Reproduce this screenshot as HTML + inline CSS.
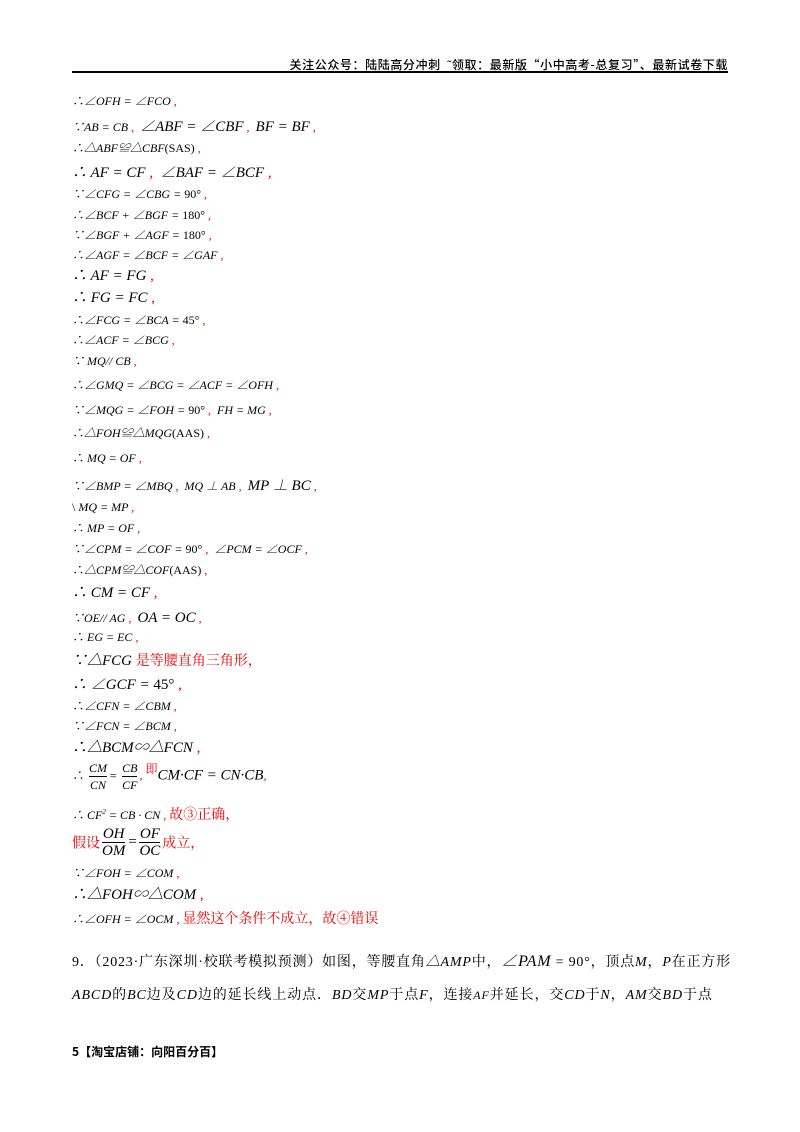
<!DOCTYPE html>
<html><head><meta charset="utf-8"><style>
body{margin:0;background:#fff;}
#p{position:relative;width:800px;height:1132px;overflow:hidden;font-family:"Liberation Serif","Noto Serif CJK SC",serif;color:#000;}
.l{position:absolute;left:72px;white-space:nowrap;font-style:italic;font-size:12px;line-height:14px;}
.b{font-size:15px;line-height:18px;}
.r{color:#e00;font-style:normal;}
.n{font-style:normal;}
.cj{font-family:"Noto Serif CJK SC",serif;font-style:normal;}
.fr{display:inline-block;vertical-align:middle;text-align:center;margin:0 2px;}
.fr span{display:block;line-height:16px;}
.fr span:first-child{border-bottom:1px solid #000;}
</style></head><body><div id="p">
<div style="position:absolute;right:72px;top:56px;font-family:'Noto Sans CJK SC',sans-serif;font-size:12px;font-weight:500;letter-spacing:0.6px;">关注公众号：陆陆高分冲刺 &nbsp;˜领取：最新版“小中高考-总复习”、最新试卷下载</div>
<div style="position:absolute;left:72px;top:71px;width:656px;height:2px;background:#000;"></div>

<div class="l" style="top:94px">∴∠OFH = ∠FCO <span class="r">,</span></div>
<div class="l" style="top:118px">∵AB = CB <span class="r">,</span> &nbsp;<span class="b">∠ABF = ∠CBF</span> <span class="r">,</span> &nbsp;<span class="b">BF = BF</span> <span class="r">,</span></div>
<div class="l" style="top:141px">∴△ABF≌△CBF<span class="n">(SAS)</span> <span class="r">,</span></div>
<div class="l b" style="top:164px">∴ AF = CF <span class="r">,</span> &nbsp;∠BAF = ∠BCF <span class="r">,</span></div>
<div class="l" style="top:187px">∵∠CFG = ∠CBG = <span class="n">90°</span> <span class="r">,</span></div>
<div class="l" style="top:208px">∴∠BCF + ∠BGF = <span class="n">180°</span> <span class="r">,</span></div>
<div class="l" style="top:228px">∵∠BGF + ∠AGF = <span class="n">180°</span> <span class="r">,</span></div>
<div class="l" style="top:248px">∴∠AGF = ∠BCF = ∠GAF <span class="r">,</span></div>
<div class="l b" style="top:267px">∴ AF = FG <span class="r">,</span></div>
<div class="l b" style="top:289px">∴ FG = FC <span class="r">,</span></div>
<div class="l" style="top:313px">∴∠FCG = ∠BCA = <span class="n">45°</span> <span class="r">,</span></div>
<div class="l" style="top:333px">∴∠ACF = ∠BCG <span class="r">,</span></div>
<div class="l" style="top:354px">∵ MQ// CB <span class="r">,</span></div>
<div class="l" style="top:378px">∴∠GMQ = ∠BCG = ∠ACF = ∠OFH <span class="r">,</span></div>
<div class="l" style="top:403px">∵∠MQG = ∠FOH = <span class="n">90°</span> <span class="r">,</span> &nbsp;FH = MG <span class="r">,</span></div>
<div class="l" style="top:426px">∴△FOH≌△MQG<span class="n">(AAS)</span> <span class="r">,</span></div>
<div class="l" style="top:451px">∴ MQ = OF <span class="r">,</span></div>
<div class="l" style="top:477px">∵∠BMP = ∠MBQ <span class="r">,</span> &nbsp;MQ ⊥ AB <span class="r">,</span> &nbsp;<span class="b">MP ⊥ BC</span> <span class="r">,</span></div>
<div class="l" style="top:500px"><span class="n">\</span> MQ = MP <span class="r">,</span></div>
<div class="l" style="top:521px">∴ MP = OF <span class="r">,</span></div>
<div class="l" style="top:542px">∵∠CPM = ∠COF = <span class="n">90°</span> <span class="r">,</span> &nbsp;∠PCM = ∠OCF <span class="r">,</span></div>
<div class="l" style="top:563px">∴△CPM≌△COF<span class="n">(AAS)</span> <span class="r">,</span></div>
<div class="l b" style="top:584px">∴ CM = CF <span class="r">,</span></div>
<div class="l" style="top:609px">∵OE// AG <span class="r">,</span> &nbsp;<span class="b">OA = OC</span> <span class="r">,</span></div>
<div class="l" style="top:630px">∴ EG = EC <span class="r">,</span></div>
<div class="l b" style="top:651px">∵△FCG <span class="r cj" style="font-size:14px">是等腰直角三角形，</span></div>
<div class="l b" style="top:676px">∴ ∠GCF = <span class="n">45°</span> <span class="r">,</span></div>
<div class="l" style="top:699px">∴∠CFN = ∠CBM <span class="r">,</span></div>
<div class="l" style="top:719px">∵∠FCN = ∠BCM <span class="r">,</span></div>
<div class="l b" style="top:739px">∴△BCM∽△FCN <span class="r">,</span></div>
<div class="l" style="top:760px">∴ <span class="fr"><span>CM</span><span>CN</span></span>= <span class="fr"><span>CB</span><span>CF</span></span><span class="r">, <span class="cj" style="vertical-align:6px">即</span></span><span class="b">CM·CF = CN·CB</span><span class="r">,</span></div>
<div class="l" style="top:805px">∴ CF<sup style="font-size:7px">2</sup> = CB · CN <span class="r">,</span> <span class="r cj" style="font-size:14px">故③正确，</span></div>
<div class="l b" style="top:826px"><span class="r cj" style="font-size:14px;vertical-align:middle">假设</span><span class="fr"><span>OH</span><span>OM</span></span>=<span class="fr"><span>OF</span><span>OC</span></span><span class="r cj" style="font-size:14px;vertical-align:middle">成立，</span></div>
<div class="l" style="top:866px">∵∠FOH = ∠COM <span class="r">,</span></div>
<div class="l b" style="top:886px">∴△FOH∽△COM <span class="r">,</span></div>
<div class="l" style="top:911px">∴∠OFH = ∠OCM <span class="r">,</span> <span class="r cj" style="font-size:14px">显然这个条件不成立，故④错误</span></div>
<div class="l n" style="top:953px;font-size:14px;line-height:18px;letter-spacing:0.8px;font-family:'Liberation Serif','Noto Serif CJK SC',serif">9．（2023·广东深圳·校联考模拟预测）如图，等腰直角<i>△AMP</i>中，<i style="font-size:16px">∠PAM</i> = 90°，顶点<i>M</i>，<i>P</i>在正方形</div>
<div class="l n" style="top:986px;font-size:14px;line-height:18px;letter-spacing:0.9px;font-family:'Liberation Serif','Noto Serif CJK SC',serif"><i>ABCD</i>的<i>BC</i>边及<i>CD</i>边的延长线上动点．<i>BD</i>交<i>MP</i>于点<i>F</i>，连接<i style="font-size:12px">AF</i>并延长，交<i>CD</i>于<i>N</i>，<i>AM</i>交<i>BD</i>于点</div>
<div class="l n" style="top:1045px;font-size:12px;font-weight:bold;font-family:'Noto Sans CJK SC',sans-serif">5【淘宝店铺：向阳百分百】</div>
</div></body></html>
